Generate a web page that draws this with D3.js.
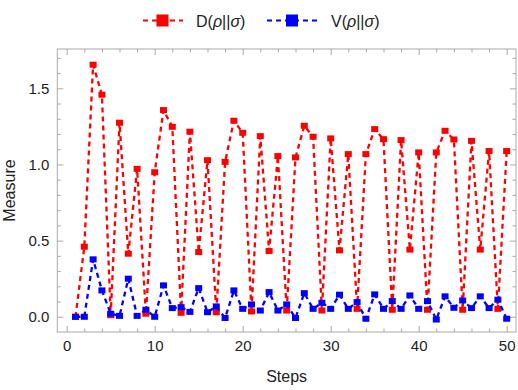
<!DOCTYPE html>
<html>
<head>
<meta charset="utf-8">
<script src="https://cdn.jsdelivr.net/npm/d3@7"></script>
<style>
  body { margin: 0; background: #fff; }
  text { font-family: 'Liberation Sans', Arial, sans-serif; }
</style>
</head>
<body>
<svg id="chart"></svg>
<script>
const steps = [1, 2, 3, 4, 5, 6, 7, 8, 9, 10, 11, 12, 13, 14, 15, 16, 17, 18, 19, 20,
  21, 22, 23, 24, 25, 26, 27, 28, 29, 30, 31, 32, 33, 34, 35, 36, 37, 38, 39, 40,
  41, 42, 43, 44, 45, 46, 47, 48, 49, 50]

const dValues = [0, 0.46, 1.655, 1.458, 0.01, 1.274, 0.414, 0.971, 0.02, 0.949,
  1.357, 1.247, 0.026, 1.215, 0.425, 1.028, 0.03, 1.017, 1.287, 1.208,
  0.035, 1.186, 0.432, 1.055, 0.041, 1.046, 1.254, 1.182, 0.041, 1.171,
  0.436, 1.068, 0.052, 1.068, 1.232, 1.166, 0.046, 1.16, 0.441, 1.079,
  0.046, 1.079, 1.221, 1.164, 0.046, 1.155, 0.441, 1.088, 0.052, 1.088]

const vValues = [0, 0, 0.377, 0.173, 0.02, 0.006, 0.25, 0.006, 0.046, 0,
  0.206, 0.057, 0.063, 0.032, 0.188, 0.03, 0.068, -0.008, 0.173, 0.052,
  0.081, 0.041, 0.162, 0.041, 0.081, -0.008, 0.155, 0.052, 0.092, 0.052,
  0.145, 0.052, 0.096, -0.013, 0.147, 0.052, 0.103, 0.052, 0.14, 0.052,
  0.103, -0.018, 0.134, 0.059, 0.107, 0.057, 0.134, 0.057, 0.112, -0.013]

const seriesNames = ['D', 'V']
const seriesColors = ['#ff0000', '#0000ff']

const xMajor = [0, 10, 20, 30, 40, 50]
const xMinor = [2, 4, 6, 8, 12, 14, 16, 18, 22, 24, 26, 28, 32, 34, 36, 38, 42, 44, 46, 48]
const yMajor = [0, 0.5, 1, 1.5]
const yMinor = [0.1, 0.2, 0.3, 0.4, 0.6, 0.7, 0.8, 0.9, 1.1, 1.2, 1.3, 1.4, 1.6, 1.7]

const w = 518
const h = 390
const plotLeft = 57.3, plotRight = 516, plotTop = 49, plotBottom = 332

const svg = d3.select('#chart').attr('width', w).attr('height', h)

const x = d3.scaleLinear().domain([-1.07, 51.06]).range([plotLeft, plotRight])
const y = d3.scaleLinear().domain([-0.1, 1.758]).range([plotBottom, plotTop])

// frame
svg.append('rect')
   .attr('x', plotLeft).attr('y', plotTop)
   .attr('width', plotRight - plotLeft).attr('height', plotBottom - plotTop)
   .attr('fill', 'none').attr('stroke', '#aaa').attr('stroke-width', 1)

const styleAxis = (g, showLabels) => {
  g.select('.domain').remove()
  g.selectAll('line').attr('stroke', '#aaa')
  if (!showLabels) g.selectAll('text').remove()
  else g.selectAll('text').attr('fill', '#222').attr('font-size', 15)
}

const addAxis = (axisFn, scale, values, size, transform, labels, fmt) => {
  const ax = axisFn(scale).tickValues(values).tickSize(-size).tickPadding(8)
  if (fmt) ax.tickFormat(fmt)
  svg.append('g').attr('transform', transform).call(ax).call(g => styleAxis(g, labels))
}

// bottom / top
addAxis(d3.axisBottom, x, xMajor, 6, `translate(0,${plotBottom})`, true, d3.format('d'))
addAxis(d3.axisBottom, x, xMinor, 3.5, `translate(0,${plotBottom})`, false)
addAxis(d3.axisTop, x, xMajor, 6, `translate(0,${plotTop})`, false)
addAxis(d3.axisTop, x, xMinor, 3.5, `translate(0,${plotTop})`, false)
// left / right
addAxis(d3.axisLeft, y, yMajor, 6, `translate(${plotLeft},0)`, true, d3.format('.1f'))
addAxis(d3.axisLeft, y, yMinor, 3.5, `translate(${plotLeft},0)`, false)
addAxis(d3.axisRight, y, yMajor, 6, `translate(${plotRight},0)`, false)
addAxis(d3.axisRight, y, yMinor, 3.5, `translate(${plotRight},0)`, false)

// axis titles
svg.append('text')
   .attr('x', (plotLeft + plotRight) / 2).attr('y', 382)
   .attr('text-anchor', 'middle').attr('font-size', 16).attr('fill', '#222')
   .text('Steps')
svg.append('text')
   .attr('transform', `translate(15,${(plotTop + plotBottom) / 2}) rotate(-90)`)
   .attr('text-anchor', 'middle').attr('font-size', 16).attr('fill', '#222')
   .text('Measure')

const series = [dValues, vValues].map((vals, i) => ({
  name: seriesNames[i],
  color: seriesColors[i],
  points: steps.map((s, j) => ({ step: s, value: vals[j] }))
}))

const line = d3.line().x(d => x(d.step)).y(d => y(d.value))

const plot = svg.append('g')
series.forEach(s => {
  plot.append('path')
      .datum(s.points)
      .attr('d', line)
      .attr('fill', 'none')
      .attr('stroke', s.color)
      .attr('stroke-width', 2.3)
      .attr('stroke-dasharray', '5,4')
  plot.selectAll(null)
      .data(s.points)
      .enter()
      .append('rect')
      .attr('x', d => x(d.step) - 3.5)
      .attr('y', d => y(d.value) - 3)
      .attr('width', 7)
      .attr('height', 6)
      .attr('fill', s.color)
})

// legend
const legend = svg.append('g')
const legendItems = [
  { x0: 143, x1: 183, tx: 196, color: seriesColors[0], name: seriesNames[0] },
  { x0: 267, x1: 318, tx: 331, color: seriesColors[1], name: seriesNames[1] }
]
legendItems.forEach(item => {
  const ly = 20.5
  legend.append('line')
        .attr('x1', item.x0).attr('x2', item.x1)
        .attr('y1', ly).attr('y2', ly)
        .attr('stroke', item.color).attr('stroke-width', 2)
        .attr('stroke-dasharray', '5,4')
  legend.append('rect')
        .attr('x', (item.x0 + item.x1) / 2 - 6.5).attr('y', ly - 6)
        .attr('width', 12).attr('height', 12)
        .attr('fill', item.color)
  const t = legend.append('text')
                  .attr('x', item.tx).attr('y', ly + 6)
                  .attr('font-size', 16).attr('fill', '#222')
  t.append('tspan').text(item.name + '(')
  t.append('tspan').attr('font-style', 'italic').text('ρ')
  t.append('tspan').text('||')
  t.append('tspan').attr('font-style', 'italic').text('σ')
  t.append('tspan').text(')')
})
</script>
</body>
</html>
